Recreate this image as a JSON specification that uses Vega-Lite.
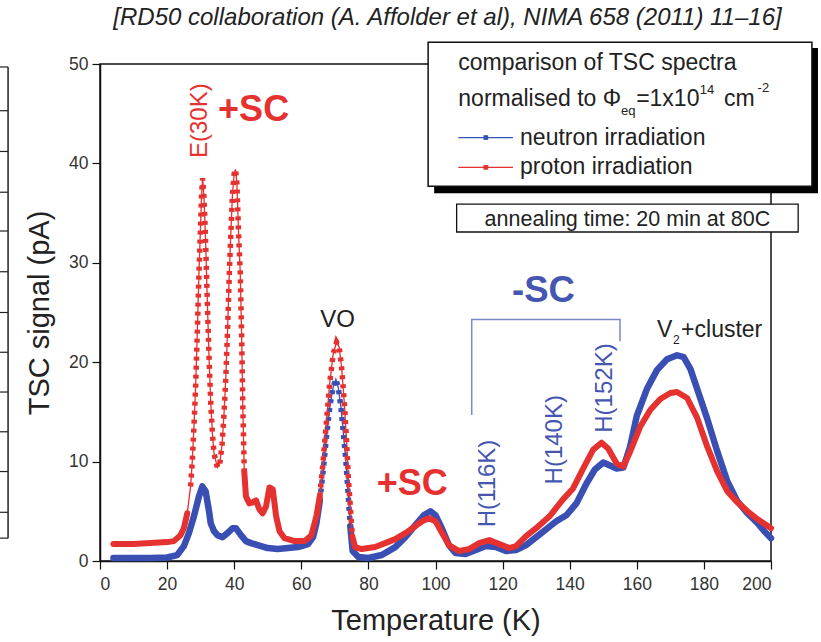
{
  "$schema": "https://vega.github.io/schema/vega-lite/v6.json",
  "width": 671,
  "height": 497,
  "autosize": {"type": "none"},
  "padding": {"left": 100, "top": 64, "right": 50, "bottom": 81},
  "background": "white",
  "title": {
    "text": "[RD50 collaboration (A. Affolder et al), NIMA 658 (2011) 11–16]",
    "font": "Liberation Sans",
    "fontStyle": "italic",
    "fontWeight": "normal",
    "fontSize": 24,
    "color": "#222222",
    "anchor": "middle",
    "dx": 12,
    "offset": 11
  },
  "config": {
    "view": {"stroke": "#111111", "strokeWidth": 1.5},
    "axis": {
      "grid": false,
      "labelFont": "Liberation Sans",
      "labelFontSize": 17.5,
      "labelColor": "#333333",
      "titleFont": "Liberation Sans",
      "titleFontSize": 29,
      "titleFontWeight": "normal",
      "titleColor": "#222222",
      "tickColor": "#111111",
      "domainColor": "#111111",
      "domainWidth": 1.5,
      "tickWidth": 1.2,
      "tickSize": 8
    },
    "text": {"font": "Liberation Sans"}
  },
  "datasets": {
    "neutron": [
      {"T": 4, "S": 0.3}, {"T": 10, "S": 0.3}, {"T": 15, "S": 0.3}, {"T": 20, "S": 0.35},
      {"T": 23, "S": 0.6}, {"T": 25, "S": 1.5}, {"T": 26.5, "S": 2.8}, {"T": 28, "S": 4.5},
      {"T": 29.5, "S": 6.5}, {"T": 30.5, "S": 7.5}, {"T": 31.5, "S": 7.0}, {"T": 32.5, "S": 5.0},
      {"T": 33, "S": 3.8}, {"T": 34, "S": 3.0}, {"T": 35, "S": 2.6}, {"T": 36.5, "S": 2.4},
      {"T": 38, "S": 2.8}, {"T": 39.5, "S": 3.3}, {"T": 40.5, "S": 3.3}, {"T": 42, "S": 2.6},
      {"T": 43.5, "S": 2.0}, {"T": 45, "S": 1.8}, {"T": 47, "S": 1.6}, {"T": 50, "S": 1.3},
      {"T": 53, "S": 1.2}, {"T": 56, "S": 1.3}, {"T": 59, "S": 1.4}, {"T": 62, "S": 1.7},
      {"T": 63.5, "S": 2.4}, {"T": 64.5, "S": 3.8}, {"T": 65.5, "S": 6.0}, {"T": 66.5, "S": 9.0},
      {"T": 67.5, "S": 12.5}, {"T": 68.5, "S": 15.5}, {"T": 69.5, "S": 17.5}, {"T": 70.3, "S": 18.3},
      {"T": 71, "S": 17.5}, {"T": 71.8, "S": 15.5}, {"T": 72.5, "S": 13.0}, {"T": 73.3, "S": 10.0},
      {"T": 74, "S": 6.5}, {"T": 74.6, "S": 3.5}, {"T": 75.3, "S": 1.0}, {"T": 77, "S": 0.4},
      {"T": 80, "S": 0.3}, {"T": 84, "S": 0.6}, {"T": 88, "S": 1.4}, {"T": 91, "S": 2.4},
      {"T": 94, "S": 3.6}, {"T": 96.5, "S": 4.6}, {"T": 98.5, "S": 5.0}, {"T": 100, "S": 4.6},
      {"T": 102, "S": 3.2}, {"T": 104, "S": 1.6}, {"T": 106, "S": 0.8}, {"T": 109, "S": 0.7},
      {"T": 112, "S": 1.1}, {"T": 115, "S": 1.5}, {"T": 118, "S": 1.4}, {"T": 121, "S": 1.0},
      {"T": 124, "S": 1.1}, {"T": 127, "S": 1.6}, {"T": 130, "S": 2.4}, {"T": 133, "S": 3.2},
      {"T": 136, "S": 4.0}, {"T": 139, "S": 4.6}, {"T": 142, "S": 5.8}, {"T": 145, "S": 7.8},
      {"T": 147.5, "S": 9.2}, {"T": 150, "S": 9.9}, {"T": 152, "S": 9.6}, {"T": 154, "S": 9.3},
      {"T": 156, "S": 9.4}, {"T": 158, "S": 11.5}, {"T": 160, "S": 14.6}, {"T": 163, "S": 17.3},
      {"T": 166, "S": 19.2}, {"T": 169, "S": 20.3}, {"T": 172, "S": 20.7}, {"T": 174, "S": 20.5},
      {"T": 176, "S": 19.3}, {"T": 178, "S": 17.3}, {"T": 181, "S": 14.3}, {"T": 184, "S": 11.0},
      {"T": 187, "S": 8.0}, {"T": 190, "S": 6.0}, {"T": 193, "S": 4.8}, {"T": 196, "S": 3.8},
      {"T": 198, "S": 3.0}, {"T": 200, "S": 2.3}
    ],
    "proton": [
      {"T": 4, "S": 1.7}, {"T": 6, "S": 1.7}, {"T": 10, "S": 1.7}, {"T": 15, "S": 1.8},
      {"T": 20, "S": 1.9}, {"T": 22, "S": 2.0}, {"T": 24, "S": 2.6}, {"T": 25, "S": 3.3},
      {"T": 26, "S": 4.8}, {"T": 27, "S": 7.5}, {"T": 27.5, "S": 10}, {"T": 28, "S": 13.5},
      {"T": 28.5, "S": 17.5}, {"T": 29, "S": 23}, {"T": 29.5, "S": 29}, {"T": 30, "S": 34},
      {"T": 30.3, "S": 37}, {"T": 30.6, "S": 38.5}, {"T": 31, "S": 36.5}, {"T": 31.4, "S": 33},
      {"T": 32, "S": 26}, {"T": 32.5, "S": 20.5}, {"T": 33, "S": 16}, {"T": 33.5, "S": 12.8},
      {"T": 34, "S": 10.8}, {"T": 35, "S": 9.4}, {"T": 35.7, "S": 9.8}, {"T": 36.4, "S": 11.8},
      {"T": 37, "S": 15}, {"T": 37.5, "S": 18.5}, {"T": 38, "S": 23}, {"T": 38.5, "S": 28.5},
      {"T": 39, "S": 33}, {"T": 39.5, "S": 37}, {"T": 40, "S": 39}, {"T": 40.4, "S": 39.4},
      {"T": 40.8, "S": 38}, {"T": 41.3, "S": 33}, {"T": 41.8, "S": 29}, {"T": 42.2, "S": 23},
      {"T": 42.6, "S": 15}, {"T": 43, "S": 9}, {"T": 43.5, "S": 6.5}, {"T": 44.5, "S": 5.8},
      {"T": 45.5, "S": 5.9}, {"T": 46.5, "S": 6.1}, {"T": 47.5, "S": 5.2}, {"T": 48.5, "S": 4.8},
      {"T": 49.5, "S": 5.5}, {"T": 50.5, "S": 7.4}, {"T": 51.5, "S": 7.2}, {"T": 52.5, "S": 4.5},
      {"T": 53.5, "S": 3.0}, {"T": 55, "S": 2.3}, {"T": 58, "S": 2.0}, {"T": 61, "S": 2.0},
      {"T": 63, "S": 2.6}, {"T": 64.5, "S": 4.5}, {"T": 65.5, "S": 6.5}, {"T": 66.5, "S": 10},
      {"T": 67.5, "S": 14}, {"T": 68.5, "S": 18}, {"T": 69.5, "S": 20.8}, {"T": 70.5, "S": 22},
      {"T": 71.3, "S": 21.5}, {"T": 72, "S": 19.5}, {"T": 72.8, "S": 16}, {"T": 73.5, "S": 12},
      {"T": 74, "S": 8.5}, {"T": 74.6, "S": 5.5}, {"T": 75.2, "S": 2.5}, {"T": 76, "S": 1.4},
      {"T": 78, "S": 1.2}, {"T": 82, "S": 1.4}, {"T": 85, "S": 1.8}, {"T": 88, "S": 2.2},
      {"T": 91, "S": 2.8}, {"T": 94, "S": 3.5}, {"T": 96, "S": 4.0}, {"T": 98, "S": 4.3},
      {"T": 100, "S": 4.0}, {"T": 102, "S": 2.8}, {"T": 104, "S": 1.6}, {"T": 107, "S": 1.0},
      {"T": 110, "S": 1.2}, {"T": 113, "S": 1.8}, {"T": 116, "S": 2.1}, {"T": 119, "S": 1.7},
      {"T": 122, "S": 1.3}, {"T": 124, "S": 1.5}, {"T": 127, "S": 2.5}, {"T": 130, "S": 3.3},
      {"T": 134, "S": 4.5}, {"T": 138, "S": 6.2}, {"T": 141, "S": 7.3}, {"T": 144, "S": 9.3},
      {"T": 147, "S": 11.2}, {"T": 149.5, "S": 11.9}, {"T": 151.5, "S": 11.3}, {"T": 154, "S": 9.8},
      {"T": 156, "S": 9.5}, {"T": 158, "S": 11}, {"T": 161, "S": 13.5}, {"T": 164, "S": 15.2},
      {"T": 167, "S": 16.3}, {"T": 170, "S": 16.9}, {"T": 172, "S": 17.0}, {"T": 175, "S": 16.4},
      {"T": 178, "S": 14.4}, {"T": 181, "S": 11.5}, {"T": 184, "S": 9.0}, {"T": 187, "S": 7.0},
      {"T": 190, "S": 5.9}, {"T": 193, "S": 5.0}, {"T": 196, "S": 4.2}, {"T": 200, "S": 3.3}
    ]
  },
  "encoding": {
    "x": {
      "field": "T",
      "type": "quantitative",
      "scale": {"domain": [0, 200], "nice": false, "zero": false},
      "axis": {"title": "Temperature (K)", "values": [0, 20, 40, 60, 80, 100, 120, 140, 160, 180, 200], "labelPadding": 6, "titlePadding": 14}
    },
    "y": {
      "field": "S",
      "type": "quantitative",
      "scale": {"domain": [0, 50], "nice": false, "zero": false},
      "axis": {"title": "TSC signal (pA)", "values": [0, 10, 20, 30, 40, 50], "labelPadding": 4, "titlePadding": 14}
    }
  },
  "layer": [
    {
      "data": {"values": [
        {"T": -29.8, "T2": -27.4, "S": 49.7}, {"T": -29.8, "T2": -27.4, "S": 2.3},
        {"T": -29.8, "T2": -27.4, "S": 45.3}, {"T": -29.8, "T2": -27.4, "S": 41.2},
        {"T": -29.8, "T2": -27.4, "S": 37.1}, {"T": -29.8, "T2": -27.4, "S": 33.2},
        {"T": -29.8, "T2": -27.4, "S": 29.1}, {"T": -29.8, "T2": -27.4, "S": 25.0},
        {"T": -29.8, "T2": -27.4, "S": 21.0}, {"T": -29.8, "T2": -27.4, "S": 17.0},
        {"T": -29.8, "T2": -27.4, "S": 13.0}, {"T": -29.8, "T2": -27.4, "S": 9.0},
        {"T": -29.8, "T2": -27.4, "S": 4.9}
      ]},
      "mark": {"type": "rule", "color": "#222222", "strokeWidth": 1.2},
      "encoding": {"x2": {"field": "T2"}}
    },
    {
      "data": {"values": [{"T": -27.4, "S": 49.7, "S2": 2.3}]},
      "mark": {"type": "rule", "color": "#222222", "strokeWidth": 1.5},
      "encoding": {"y2": {"field": "S2"}}
    },
    {
      "data": {"name": "neutron"},
      "mark": {"type": "line", "color": "#3a4fb3", "strokeWidth": 1.3}
    },
    {
      "data": {"name": "neutron"},
      "transform": [{"filter": "datum.T <= 65.5"}],
      "mark": {"type": "line", "color": "#3a4fb3", "strokeWidth": 6.5, "strokeJoin": "round", "strokeCap": "round"}
    },
    {
      "data": {"name": "neutron"},
      "transform": [{"filter": "datum.T >= 74.6"}],
      "mark": {"type": "line", "color": "#3a4fb3", "strokeWidth": 6.5, "strokeJoin": "round", "strokeCap": "round"}
    },
    {
      "data": {"name": "neutron"},
      "transform": [{"filter": "datum.T >= 65.5 && datum.T <= 74.6"}],
      "mark": {"type": "line", "color": "#3a4fb3", "strokeWidth": 5.5, "strokeDash": [4, 5], "strokeCap": "butt"}
    },
    {
      "data": {"name": "proton"},
      "mark": {"type": "line", "color": "#e5312f", "strokeWidth": 1.3}
    },
    {
      "data": {"name": "proton"},
      "transform": [{"filter": "datum.T <= 26.5"}],
      "mark": {"type": "line", "color": "#e5312f", "strokeWidth": 6, "strokeJoin": "round", "strokeCap": "round"}
    },
    {
      "data": {"name": "proton"},
      "transform": [{"filter": "datum.T >= 43 && datum.T <= 65.5"}],
      "mark": {"type": "line", "color": "#e5312f", "strokeWidth": 6, "strokeJoin": "round", "strokeCap": "round"}
    },
    {
      "data": {"name": "proton"},
      "transform": [{"filter": "datum.T >= 75.2"}],
      "mark": {"type": "line", "color": "#e5312f", "strokeWidth": 6, "strokeJoin": "round", "strokeCap": "round"}
    },
    {
      "data": {"name": "proton"},
      "transform": [{"filter": "datum.T >= 26.5 && datum.T <= 43"}],
      "mark": {"type": "line", "color": "#e5312f", "strokeWidth": 5.5, "strokeDash": [4, 5], "strokeCap": "butt"}
    },
    {
      "data": {"name": "proton"},
      "transform": [{"filter": "datum.T >= 65.5 && datum.T <= 75.2"}],
      "mark": {"type": "line", "color": "#e5312f", "strokeWidth": 5.5, "strokeDash": [4, 5], "strokeCap": "butt"}
    },
    {
      "data": {"values": [
        {"T": 110.8, "S": 14.7, "o": 1}, {"T": 110.8, "S": 24.3, "o": 2},
        {"T": 155.0, "S": 24.3, "o": 3}, {"T": 155.0, "S": 22.1, "o": 4}
      ]},
      "mark": {"type": "line", "color": "#7b88c8", "strokeWidth": 1.5},
      "encoding": {"order": {"field": "o"}}
    },
    {
      "data": {"values": [
        {"T": 35.2, "S": 44.3, "label": "+SC"},
        {"T": 82.5, "S": 6.65, "label": "+SC"}
      ]},
      "mark": {"type": "text", "color": "#e5312f", "fontSize": 36, "fontWeight": "bold", "align": "left", "baseline": "alphabetic"},
      "encoding": {"text": {"field": "label"}}
    },
    {
      "data": {"values": [{"T": 132.2, "S": 26.1, "label": "-SC"}]},
      "mark": {"type": "text", "color": "#4456b0", "fontSize": 36.5, "fontWeight": "bold", "align": "center", "baseline": "alphabetic"},
      "encoding": {"text": {"field": "label"}}
    },
    {
      "data": {"values": [{"T": 29.8, "S": 44.3, "label": "E(30K)"}]},
      "mark": {"type": "text", "color": "#e5312f", "fontSize": 24, "angle": 270, "align": "center", "baseline": "middle"},
      "encoding": {"text": {"field": "label"}}
    },
    {
      "data": {"values": [
        {"T": 115.7, "S": 7.8, "label": "H(116K)"},
        {"T": 135.6, "S": 12.2, "label": "H(140K)"},
        {"T": 150.5, "S": 17.4, "label": "H(152K)"}
      ]},
      "mark": {"type": "text", "color": "#4456b0", "fontSize": 24, "angle": 270, "align": "center", "baseline": "middle"},
      "encoding": {"text": {"field": "label"}}
    },
    {
      "data": {"values": [
        {"T": 70.8, "S": 23.5, "label": "VO"}
      ]},
      "mark": {"type": "text", "color": "#222222", "fontSize": 24, "align": "center", "baseline": "alphabetic"},
      "encoding": {"text": {"field": "label"}}
    },
    {
      "data": {"values": [
        {"T": 166.0, "S": 22.5, "label": "V"},
        {"T": 173.2, "S": 22.5, "label": "+cluster"}
      ]},
      "mark": {"type": "text", "color": "#222222", "fontSize": 23, "align": "left", "baseline": "alphabetic"},
      "encoding": {"text": {"field": "label"}}
    },
    {
      "data": {"values": [{"T": 170.8, "S": 21.8, "label": "2"}]},
      "mark": {"type": "text", "color": "#222222", "fontSize": 12, "align": "left", "baseline": "alphabetic"},
      "encoding": {"text": {"field": "label"}}
    },
    {
      "data": {"values": [{"T": 99.6, "T2": 214.0, "S": 51.6, "S2": 37.0}]},
      "mark": {"type": "rect", "color": "#000000"},
      "encoding": {"x2": {"field": "T2"}, "y2": {"field": "S2"}}
    },
    {
      "data": {"values": [{"T": 97.8, "T2": 212.2, "S": 52.2, "S2": 37.7}]},
      "mark": {"type": "rect", "fill": "#ffffff", "stroke": "#111111", "strokeWidth": 1.5},
      "encoding": {"x2": {"field": "T2"}, "y2": {"field": "S2"}}
    },
    {
      "data": {"values": [{"T": 106.3, "T2": 208.1, "S": 35.9, "S2": 33.1}]},
      "mark": {"type": "rect", "fill": "#ffffff", "stroke": "#111111", "strokeWidth": 1.3},
      "encoding": {"x2": {"field": "T2"}, "y2": {"field": "S2"}}
    },
    {
      "data": {"values": [{"T": 157.2, "S": 33.7, "label": "annealing time: 20 min at 80C"}]},
      "mark": {"type": "text", "color": "#222222", "fontSize": 21.5, "align": "center", "baseline": "alphabetic"},
      "encoding": {"text": {"field": "label"}}
    },
    {
      "data": {"values": [
        {"T": 106.8, "S": 49.4, "label": "comparison of TSC spectra"},
        {"T": 106.8, "S": 45.8, "label": "normalised to Φ"},
        {"T": 159.8, "S": 45.8, "label": "=1x10"},
        {"T": 186.0, "S": 45.8, "label": "cm"},
        {"T": 196.0, "S": 45.8, "label": ""},
        {"T": 125.2, "S": 41.9, "label": "neutron irradiation"},
        {"T": 125.2, "S": 38.9, "label": "proton irradiation"}
      ]},
      "mark": {"type": "text", "color": "#222222", "fontSize": 23, "align": "left", "baseline": "alphabetic"},
      "encoding": {"text": {"field": "label"}}
    },
    {
      "data": {"values": [
        {"T": 155.3, "S": 44.9, "label": "eq"},
        {"T": 178.8, "S": 47.0, "label": "14"},
        {"T": 196.0, "S": 47.2, "label": "-2"}
      ]},
      "mark": {"type": "text", "color": "#222222", "fontSize": 13, "align": "left", "baseline": "alphabetic"},
      "encoding": {"text": {"field": "label"}}
    },
    {
      "data": {"values": [{"T": 106.8, "T2": 123.1, "S": 42.6}]},
      "mark": {"type": "rule", "color": "#3a4fb3", "strokeWidth": 1.3},
      "encoding": {"x2": {"field": "T2"}}
    },
    {
      "data": {"values": [{"T": 106.8, "T2": 123.1, "S": 39.6}]},
      "mark": {"type": "rule", "color": "#e5312f", "strokeWidth": 1.3},
      "encoding": {"x2": {"field": "T2"}}
    },
    {
      "data": {"values": [{"T": 115.0, "S": 42.6}]},
      "mark": {"type": "square", "color": "#3a4fb3", "size": 22, "opacity": 1}
    },
    {
      "data": {"values": [{"T": 115.0, "S": 39.6}]},
      "mark": {"type": "square", "color": "#e5312f", "size": 22, "opacity": 1}
    }
  ]
}
